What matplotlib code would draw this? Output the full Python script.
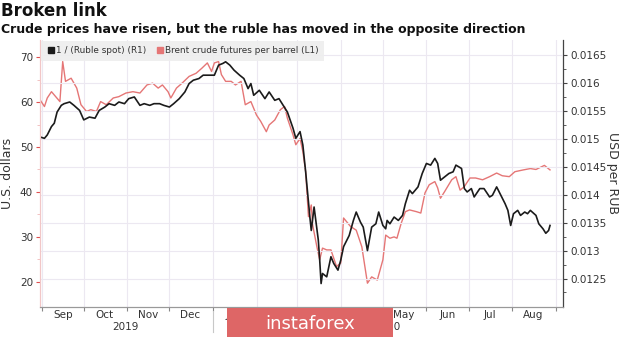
import matplotlib
matplotlib.use("Agg")
import matplotlib.pyplot as plt
import matplotlib.dates as mdates
from matplotlib.lines import Line2D
from matplotlib.patches import Rectangle
from matplotlib.ticker import FixedLocator, FuncFormatter, NullFormatter
import numpy as np
import pandas as pd

# --- data --------------------------------------------------------------
brent_dates = [
    "2019-08-30", "2019-09-03", "2019-09-05", "2019-09-08", "2019-09-11", "2019-09-14",
    "2019-09-16", "2019-09-18", "2019-09-22", "2019-09-26", "2019-09-29", "2019-10-03",
    "2019-10-06", "2019-10-10", "2019-10-13", "2019-10-17", "2019-10-22", "2019-10-26",
    "2019-10-31", "2019-11-05", "2019-11-10", "2019-11-15", "2019-11-19", "2019-11-23",
    "2019-11-26", "2019-11-30", "2019-12-02", "2019-12-06", "2019-12-10", "2019-12-15",
    "2019-12-20", "2019-12-24", "2019-12-28", "2019-12-31", "2020-01-02", "2020-01-05",
    "2020-01-07", "2020-01-10", "2020-01-14", "2020-01-17", "2020-01-21", "2020-01-24",
    "2020-01-28", "2020-02-01", "2020-02-04", "2020-02-08", "2020-02-10", "2020-02-14",
    "2020-02-18", "2020-02-21", "2020-02-23", "2020-02-27", "2020-02-29", "2020-03-03",
    "2020-03-05", "2020-03-07", "2020-03-09", "2020-03-11", "2020-03-12", "2020-03-15",
    "2020-03-17", "2020-03-19", "2020-03-22", "2020-03-25", "2020-03-29", "2020-04-01",
    "2020-04-03", "2020-04-08", "2020-04-12", "2020-04-16", "2020-04-20", "2020-04-23",
    "2020-04-27", "2020-05-01", "2020-05-03", "2020-05-06", "2020-05-09", "2020-05-11",
    "2020-05-14", "2020-05-17", "2020-05-20", "2020-05-25", "2020-05-28", "2020-05-31",
    "2020-06-03", "2020-06-07", "2020-06-09", "2020-06-11", "2020-06-14", "2020-06-19",
    "2020-06-22", "2020-06-25", "2020-06-28", "2020-07-02", "2020-07-06", "2020-07-11",
    "2020-07-16", "2020-07-21", "2020-07-25", "2020-07-30", "2020-08-03", "2020-08-09",
    "2020-08-14", "2020-08-18", "2020-08-24", "2020-08-28",
]
brent = [
    60.9, 59.0, 60.9, 62.3, 61.2, 60.1, 69.0, 64.6, 65.3, 63.1, 59.4, 57.9,
    58.3, 57.9, 60.1, 59.4, 60.9, 61.2, 62.0, 62.3, 62.0, 63.8, 64.2, 63.1,
    63.8, 62.3, 60.9, 63.1, 64.2, 65.7, 66.4, 67.5, 68.7, 66.8, 68.7, 69.0,
    66.1, 64.6, 64.6, 63.8, 64.6, 59.4, 60.1, 57.1, 55.7, 53.4, 54.9, 56.0,
    58.3, 59.0, 56.4, 52.7, 50.5, 51.9, 49.0, 44.5, 34.5, 37.1, 32.6, 27.8,
    24.9, 27.5, 27.1, 27.1, 23.4, 24.2, 34.2, 32.3, 31.5, 27.8, 19.7, 21.1,
    20.4, 24.9, 30.4, 29.7, 30.0, 29.7, 33.0, 35.6, 36.0, 35.6, 35.3, 39.8,
    41.6, 42.3, 40.9, 38.6, 40.1, 42.7, 43.4, 40.4, 41.2, 43.1, 43.1, 42.7,
    43.4, 44.2, 43.6, 43.4, 44.5, 44.9, 45.2, 45.0, 45.9, 44.9,
]

ruble_dates = [
    "2019-08-30", "2019-09-03", "2019-09-05", "2019-09-08", "2019-09-10", "2019-09-12",
    "2019-09-15", "2019-09-17", "2019-09-21", "2019-09-24", "2019-09-28", "2019-10-01",
    "2019-10-05", "2019-10-09", "2019-10-12", "2019-10-16", "2019-10-19", "2019-10-23",
    "2019-10-26", "2019-10-30", "2019-11-02", "2019-11-06", "2019-11-10", "2019-11-13",
    "2019-11-17", "2019-11-20", "2019-11-24", "2019-11-27", "2019-12-01", "2019-12-04",
    "2019-12-08", "2019-12-12", "2019-12-15", "2019-12-18", "2019-12-22", "2019-12-25",
    "2019-12-29", "2020-01-02", "2020-01-05", "2020-01-08", "2020-01-10", "2020-01-13",
    "2020-01-16", "2020-01-20", "2020-01-23", "2020-01-26", "2020-01-28", "2020-01-30",
    "2020-02-03", "2020-02-07", "2020-02-10", "2020-02-14", "2020-02-17", "2020-02-20",
    "2020-02-23", "2020-02-27", "2020-02-29", "2020-03-03", "2020-03-05", "2020-03-07",
    "2020-03-10", "2020-03-11", "2020-03-13", "2020-03-16", "2020-03-17", "2020-03-18",
    "2020-03-19", "2020-03-22", "2020-03-25", "2020-03-27", "2020-03-30", "2020-04-01",
    "2020-04-03", "2020-04-07", "2020-04-10", "2020-04-12", "2020-04-15", "2020-04-17",
    "2020-04-20", "2020-04-23", "2020-04-26", "2020-04-28", "2020-05-01", "2020-05-03",
    "2020-05-04", "2020-05-06", "2020-05-09", "2020-05-12", "2020-05-15", "2020-05-17",
    "2020-05-20", "2020-05-22", "2020-05-26", "2020-05-29", "2020-06-01", "2020-06-04",
    "2020-06-07", "2020-06-09", "2020-06-11", "2020-06-14", "2020-06-17", "2020-06-20",
    "2020-06-22", "2020-06-26", "2020-06-28", "2020-06-30", "2020-07-03", "2020-07-05",
    "2020-07-09", "2020-07-12", "2020-07-16", "2020-07-18", "2020-07-21", "2020-07-24",
    "2020-07-27", "2020-07-29", "2020-07-31", "2020-08-02", "2020-08-05", "2020-08-07",
    "2020-08-10", "2020-08-12", "2020-08-14", "2020-08-18", "2020-08-20", "2020-08-23",
    "2020-08-25", "2020-08-27", "2020-08-28",
]
ruble = [
    0.01504, 0.01501, 0.01507, 0.01522, 0.01528, 0.01548, 0.01560, 0.01563, 0.01566,
    0.01560, 0.01551, 0.01534, 0.01539, 0.01537, 0.01551, 0.01557, 0.01563, 0.01560,
    0.01566, 0.01563, 0.01572, 0.01575, 0.01560, 0.01563, 0.01560, 0.01563, 0.01563,
    0.01560, 0.01557, 0.01563, 0.01572, 0.01584, 0.01599, 0.01605, 0.01608, 0.01614,
    0.01614, 0.01614, 0.01632, 0.01635, 0.01638, 0.01632, 0.01623, 0.01614, 0.01608,
    0.01590, 0.01599, 0.01578, 0.01587, 0.01572, 0.01584, 0.01569, 0.01572, 0.01560,
    0.01548, 0.01519, 0.01501, 0.01513, 0.01489, 0.01441, 0.01360, 0.01336, 0.01378,
    0.01319, 0.01283, 0.01241, 0.01259, 0.01253, 0.01289, 0.01277, 0.01265, 0.01283,
    0.01307, 0.01327, 0.01354, 0.01369, 0.01351, 0.01342, 0.01300, 0.01342, 0.01348,
    0.01369, 0.01345, 0.01339, 0.01354, 0.01348, 0.01360, 0.01354, 0.01363, 0.01384,
    0.01408, 0.01402, 0.01414, 0.01438, 0.01456, 0.01453, 0.01465, 0.01456, 0.01426,
    0.01432, 0.01438, 0.01441, 0.01453, 0.01447, 0.01411, 0.01405, 0.01411, 0.01396,
    0.01411, 0.01411, 0.01396, 0.01399, 0.01414, 0.01399, 0.01384, 0.01372, 0.01345,
    0.01366, 0.01372, 0.01363, 0.01369, 0.01366, 0.01372, 0.01363, 0.01348, 0.01339,
    0.01331, 0.01336, 0.01345,
]

left_ticks = [20, 30, 40, 50, 60, 70]
right_ticks = [0.0125, 0.013, 0.0135, 0.014, 0.0145, 0.015, 0.0155, 0.016, 0.0165]

brent_dates = pd.to_datetime(brent_dates)
ruble_dates = pd.to_datetime(ruble_dates)

RED = "#e57676"
BLACK = "#1b1b1b"
GRID = "#ece8f1"
TXT = "#333333"

fig = plt.figure(figsize=(6.2, 3.37), dpi=100)
ax = fig.add_axes([40 / 620, 1 - 307 / 337, 523 / 620, 267 / 337])
ax2 = ax.twinx()

ax.plot(brent_dates, brent, color=RED, lw=1.0)
ax2.plot(ruble_dates, ruble, color=BLACK, lw=1.2)

ax.set_xlim(pd.Timestamp("2019-08-30 20:00"), pd.Timestamp("2020-09-06 06:00"))
ax.set_ylim(14.4, 73.8)
ax2.set_ylim(0.01199, 0.01677)

# x axis: month starts as ticks, names in the middle of each month
ax.xaxis.set_major_locator(mdates.MonthLocator())
ax.xaxis.set_major_formatter(NullFormatter())
ax.xaxis.set_minor_locator(mdates.MonthLocator(bymonthday=16))
ax.xaxis.set_minor_formatter(mdates.DateFormatter("%b"))
ax.tick_params(axis="x", which="major", length=3, color="#888888")
ax.tick_params(axis="x", which="minor", length=0, pad=2, labelsize=7.5, labelcolor=TXT)
ax.xaxis.grid(True, which="major", color=GRID, lw=0.8)

# left axis (Brent)
ax.set_yticks(left_ticks)
ax.yaxis.set_minor_locator(FixedLocator([25, 35, 45, 55, 65]))
ax.tick_params(axis="y", which="major", length=3, color="#e05050", labelsize=7.5,
               labelcolor=TXT, pad=2)
ax.tick_params(axis="y", which="minor", length=2, color="#f0b8b8")
ax.set_ylabel("U.S. dollars", fontsize=9, color=TXT, labelpad=4)

# right axis (ruble)
ax2.set_yticks(right_ticks)
ax2.yaxis.set_major_formatter(FuncFormatter(lambda v, p: "%g" % round(v, 5)))
ax2.yaxis.set_minor_locator(FixedLocator(np.arange(0.01225, 0.0167, 0.0005)))
ax2.tick_params(axis="y", which="major", length=3, color="#444444", labelsize=7.5,
                labelcolor=TXT, pad=2)
ax2.tick_params(axis="y", which="minor", length=2, color="#444444")
ax2.yaxis.grid(True, color=GRID, lw=0.8)
ax2.set_ylabel("USD per RUB", fontsize=9, color=TXT, rotation=270, labelpad=9)

for a in (ax, ax2):
    a.spines["top"].set_visible(False)
    a.spines["bottom"].set_color("#999999")
    a.spines["left"].set_color("#f2c6c6")
ax2.spines["right"].set_color("#444444")

# year labels under the months
xt = ax.get_xaxis_transform()
ax.text(pd.Timestamp("2019-10-31"), -0.075, "2019", transform=xt, ha="center",
        va="center", fontsize=7.5, color=TXT)
ax.text(pd.Timestamp("2020-05-04"), -0.075, "2020", transform=xt, ha="center",
        va="center", fontsize=7.5, color=TXT)
jan1 = pd.Timestamp("2020-01-01")
ax.plot([jan1, jan1], [-0.015, -0.095], transform=xt, clip_on=False,
        color="#c8c8c8", lw=0.8)

# legend
handles = [
    Line2D([], [], marker="s", color=BLACK, ls="none", markersize=4.5),
    Line2D([], [], marker="s", color=RED, ls="none", markersize=4.5),
]
leg = ax2.legend(handles, ["1 / (Ruble spot) (R1)", "Brent crude futures per barrel (L1)"],
                 loc="upper left", bbox_to_anchor=(0.0, 1.0), ncol=2, fontsize=6.4,
                 frameon=True, fancybox=False, borderaxespad=0.1, handletextpad=0.1,
                 columnspacing=1.0, handlelength=1.0, borderpad=0.6)
leg.get_frame().set_facecolor("#eeeeee")
leg.get_frame().set_edgecolor("none")
leg.get_frame().set_alpha(0.9)
for t in leg.get_texts():
    t.set_color(TXT)

# titles
fig.text(0.002, 1 - 16 / 337, "Broken link", fontsize=12, fontweight="bold",
         va="baseline", ha="left", color="#111111")
fig.text(0.002, 1 - 32.5 / 337,
         "Crude prices have risen, but the ruble has moved in the opposite direction",
         fontsize=9, fontweight="bold", va="baseline", ha="left", color="#111111")

# watermark box
fig.add_artist(Rectangle((227 / 620, 0), 166 / 620, 29 / 337, transform=fig.transFigure,
                         facecolor="#de6666", edgecolor="none", zorder=10))
fig.text(310 / 620, 13 / 337, "instaforex", fontsize=13, color="white",
         ha="center", va="center", zorder=11)

fig.savefig("out.png", dpi=100)
